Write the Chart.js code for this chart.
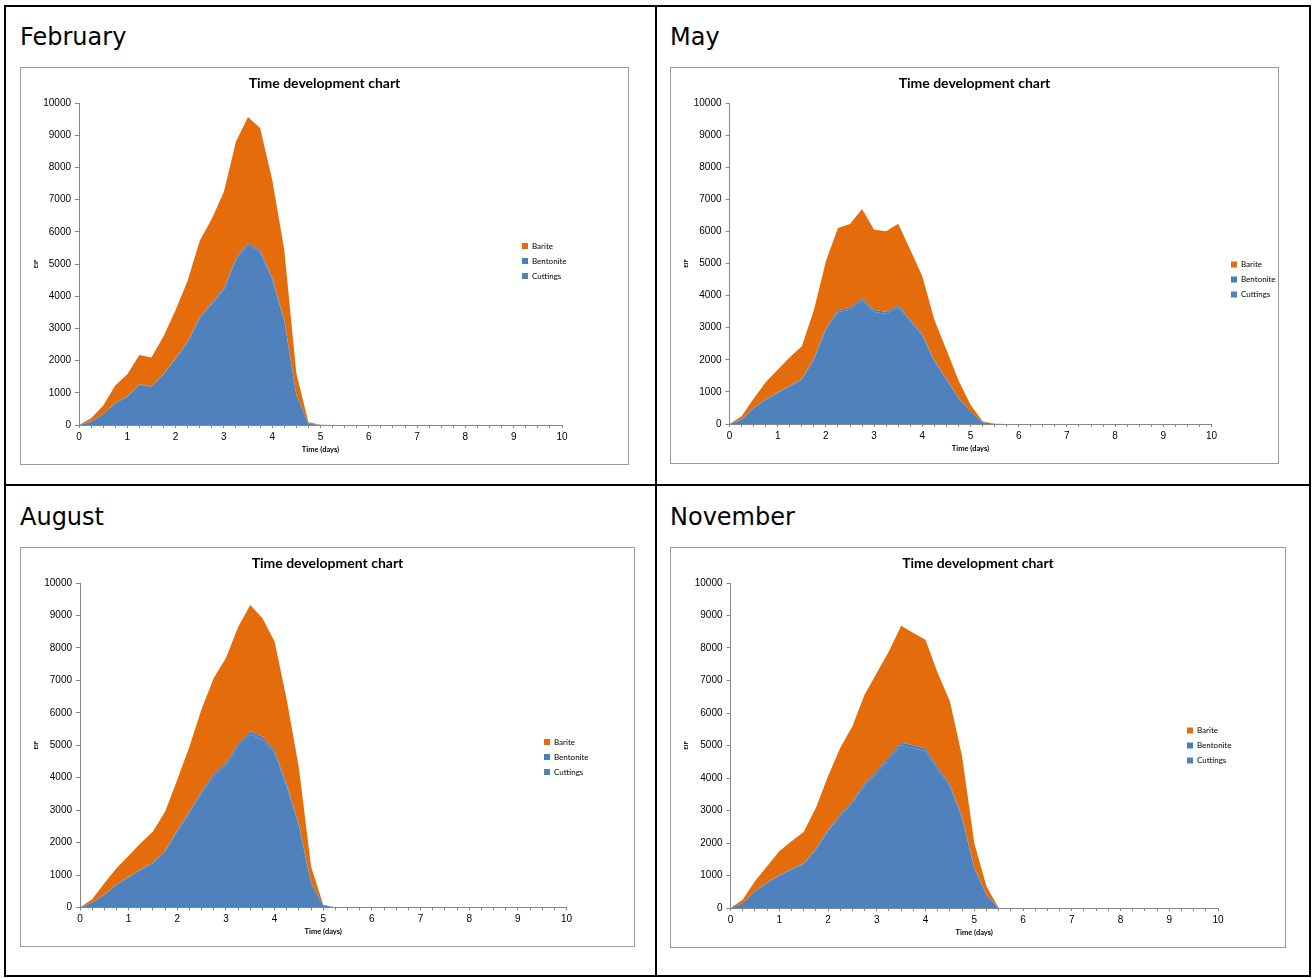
<!DOCTYPE html>
<html>
<head>
<meta charset="utf-8">
<script src="https://cdn.jsdelivr.net/npm/chart.js@4.4.1/dist/chart.umd.min.js"></script>
<style>
html,body{margin:0;padding:0;background:#fff;width:1312px;height:978px;overflow:hidden;position:relative;}
.ln{position:absolute;background:#000;}
.month{position:absolute;font-family:"DejaVu Sans",Verdana,sans-serif;font-size:24px;line-height:24px;color:#000;white-space:nowrap;}
canvas{position:absolute;}
</style>
</head>
<body>
<div class="ln" style="left:4px;top:5px;width:1307px;height:2px"></div>
<div class="ln" style="left:4px;top:975px;width:1307px;height:2px"></div>
<div class="ln" style="left:4px;top:5px;width:2px;height:972px"></div>
<div class="ln" style="left:1309px;top:5px;width:2px;height:972px"></div>
<div class="ln" style="left:655px;top:5px;width:2px;height:972px"></div>
<div class="ln" style="left:4px;top:484px;width:1307px;height:2px"></div>

<div class="month" style="left:20px;top:25px">February</div>
<div class="month" style="left:670px;top:25px">May</div>
<div class="month" style="left:20px;top:505px">August</div>
<div class="month" style="left:670px;top:505px">November</div>

<canvas id="cFeb" width="609" height="398" style="left:20px;top:67px"></canvas>
<canvas id="cMay" width="609" height="397" style="left:670px;top:67px"></canvas>
<canvas id="cAug" width="615" height="400" style="left:20px;top:547px"></canvas>
<canvas id="cNov" width="616" height="401" style="left:670px;top:547px"></canvas>

<script>
// Time axis (days)
const times = [0,0.25,0.5,0.75,1,1.25,1.5,1.75,2,2.25,2.5,2.75,3,3.25,3.5,3.75,4,4.25,4.5,4.75,5,5.25,5.5,5.75,6,6.25,6.5,6.75,7,7.25,7.5,7.75,8,8.25,8.5,8.75,9,9.25,9.5,9.75,10];

const seriesNames = ['Cuttings','Bentonite','Barite'];
const months = ['February','May','August','November'];

// February
const febCuttings  = [0,104,332,674,881,1250,1192,1575,2052,2570,3316,3751,4197,5130,5585,5368,4528,3233,933,40,5, 0,0,0,0,0,0,0,0,0,0,0,0,0,0,0,0,0,0,0,0];
const febBentonite = [0,2,5,10,12,15,15,20,25,30,40,45,50,60,65,60,50,35,10,1,0, 0,0,0,0,0,0,0,0,0,0,0,0,0,0,0,0,0,0,0,0];
const febBarite    = [0,101,263,539,682,911,886,1161,1498,1887,2364,2608,2997,3618,3915,3795,3039,2172,663,42,5, 0,0,0,0,0,0,0,0,0,0,0,0,0,0,0,0,0,0,0,0];

// May
const mayCuttings  = [0,135,500,758,966,1173,1381,2004,2939,3479,3562,3853,3489,3437,3634,3198,2752,1952,1381,810,395,52,5, 0,0,0,0,0,0,0,0,0,0,0,0,0,0,0,0,0,0];
const mayBentonite = [0,5,10,15,20,20,25,35,50,60,60,65,60,60,60,55,45,35,25,15,5,1,0, 0,0,0,0,0,0,0,0,0,0,0,0,0,0,0,0,0,0];
const mayBarite    = [0,100,280,525,707,884,1014,1502,2078,2567,2609,2780,2505,2505,2547,2178,1803,1263,910,535,202,30,5, 0,0,0,0,0,0,0,0,0,0,0,0,0,0,0,0,0,0];

// August
const augCuttings  = [0,154,391,699,935,1161,1367,1727,2343,2909,3525,4060,4368,4964,5344,5170,4758,3731,2518,750,62,5, 0,0,0,0,0,0,0,0,0,0,0,0,0,0,0,0,0,0,0];
const augBentonite = [0,3,8,12,15,20,25,30,40,50,60,70,75,85,90,90,80,65,45,15,1,0, 0,0,0,0,0,0,0,0,0,0,0,0,0,0,0,0,0,0,0];
const augBarite    = [0,100,351,502,643,803,951,1203,1553,2005,2530,2941,3244,3594,3888,3651,3363,2607,1733,499,19,5, 0,0,0,0,0,0,0,0,0,0,0,0,0,0,0,0,0,0,0];

// November
const novCuttings  = [0,154,513,769,995,1179,1354,1795,2359,2821,3231,3764,4154,4564,5005,4923,4821,4256,3744,2769,1231,410,0, 0,0,0,0,0,0,0,0,0,0,0,0,0,0,0,0,0,0];
const novBentonite = [0,2,8,12,17,20,23,30,40,50,55,65,72,80,87,85,83,72,64,47,20,7,0, 0,0,0,0,0,0,0,0,0,0,0,0,0,0,0,0,0,0];
const novBarite    = [0,100,300,501,732,852,961,1252,1652,2052,2304,2735,3005,3253,3595,3454,3352,2903,2551,1851,749,250,0, 0,0,0,0,0,0,0,0,0,0,0,0,0,0,0,0,0,0];

const ORANGE = '#E46C0A';
const BLUE = '#4F81BD';
const BLUE2 = '#4A7EBB';
const GRAY = '#868686';
const LEG_FONT = 8;
const LEG_BOX = 6;
const LEG_PAD = 7;

const legendMover = {
  id: 'legendMover',
  afterLayout(chart, args, opts) {
    const lg = chart.legend;
    if (!lg) return;
    const ih = Math.max(LEG_FONT, LEG_BOX);
    lg.left = opts.x - LEG_PAD;
    lg.top = opts.y - ih / 2 - LEG_PAD;
    lg.right = lg.left + lg.width;
    lg.bottom = lg.top + lg.height;
  }
};

const frame = {
  id: 'frame',
  beforeDraw(chart) {
    const c = chart.ctx;
    c.save();
    c.fillStyle = '#fff';
    c.fillRect(0, 0, chart.width, chart.height);
    c.strokeStyle = '#9a9a9a';
    c.lineWidth = 1;
    c.strokeRect(0.5, 0.5, chart.width - 1, chart.height - 1);
    c.restore();
  }
};

function makeChart(id, cuttings, bentonite, barite, w, h, plot, leg) {
  const pts = (vals) => times.map((t, i) => ({x: t, y: vals[i]}));
  const ds = (label, vals, color, fill) => ({
    label, data: pts(vals), backgroundColor: color, borderColor: 'rgba(0,0,0,0)',
    borderWidth: 0, pointRadius: 0, pointHoverRadius: 0, fill, tension: 0
  });
  new Chart(document.getElementById(id), {
    type: 'line',
    data: {
      datasets: [
        ds(seriesNames[0], cuttings, BLUE, 'origin'),
        ds(seriesNames[1], bentonite, BLUE2, '-1'),
        ds(seriesNames[2], barite, ORANGE, '-1')
      ]
    },
    options: {
      responsive: false,
      animation: false,
      events: [],
      layout: {padding: 0},
      plugins: {
        title: {
          display: true, text: 'Time development chart', color: '#000',
          font: {family: 'Lato', size: 14, weight: 'bold'},
          padding: {top: 8.2, bottom: plot.t - 8.2 - 16.8}
        },
        legend: {
          position: 'chartArea', align: 'start', reverse: true,
          labels: {boxWidth: LEG_BOX, boxHeight: LEG_BOX, padding: LEG_PAD, color: '#000',
                   font: {family: 'Lato', size: LEG_FONT}}
        },
        tooltip: {enabled: false},
        legendMover: {x: leg.x, y: leg.y}
      },
      scales: {
        x: {
          type: 'linear', min: 0, max: 10,
          afterFit(s) { s.height = h - plot.b; },
          ticks: {
            stepSize: 0.25, autoSkip: false, maxRotation: 0, minRotation: 0, padding: 3, color: '#000',
            font: {family: 'Liberation Sans', size: 10},
            callback: (v) => Number.isInteger(Math.round(v * 1000) / 1000) ? String(Math.round(v)) : ''
          },
          grid: {drawOnChartArea: false, drawTicks: true, tickLength: 3, color: GRAY},
          border: {color: GRAY},
          title: {display: true, text: 'Time (days)', color: '#000',
                  font: {family: 'Lato', size: 7.5, weight: 'bold'}, padding: {top: 0, bottom: 10.5}}
        },
        y: {
          stacked: true, min: 0, max: 10000,
          afterFit(s) { s.width = plot.l; },
          ticks: {stepSize: 1000, padding: 4, color: '#000',
                  font: {family: 'Liberation Sans', size: 10},
                  callback: (v) => String(v)},
          grid: {drawOnChartArea: false, drawTicks: true, tickLength: 4, color: GRAY},
          border: {color: GRAY},
          title: {display: true, text: 'EIF', color: '#000',
                  font: {family: 'Lato', size: 6, weight: 'bold'}, padding: {top: 12, bottom: 0}}
        },
        yRight: {
          axis: 'y', position: 'right', display: true,
          afterFit(s) { s.width = w - plot.r; },
          ticks: {display: false},
          grid: {display: false, drawTicks: false},
          border: {display: false},
          title: {display: false}
        }
      }
    },
    plugins: [legendMover, frame]
  });
}

makeChart('cFeb', febCuttings, febBentonite, febBarite, 609, 398, {l: 59, r: 542, t: 36, b: 358}, {x: 502, y: 179});
makeChart('cMay', mayCuttings, mayBentonite, mayBarite, 609, 397, {l: 59.5, r: 541.5, t: 36, b: 357}, {x: 561, y: 197.5});
makeChart('cAug', augCuttings, augBentonite, augBarite, 615, 400, {l: 60, r: 546.5, t: 36, b: 360.5}, {x: 524, y: 195});
makeChart('cNov', novCuttings, novBentonite, novBarite, 616, 401, {l: 60.5, r: 548, t: 36, b: 361}, {x: 517, y: 183.5});
</script>
</body>
</html>
